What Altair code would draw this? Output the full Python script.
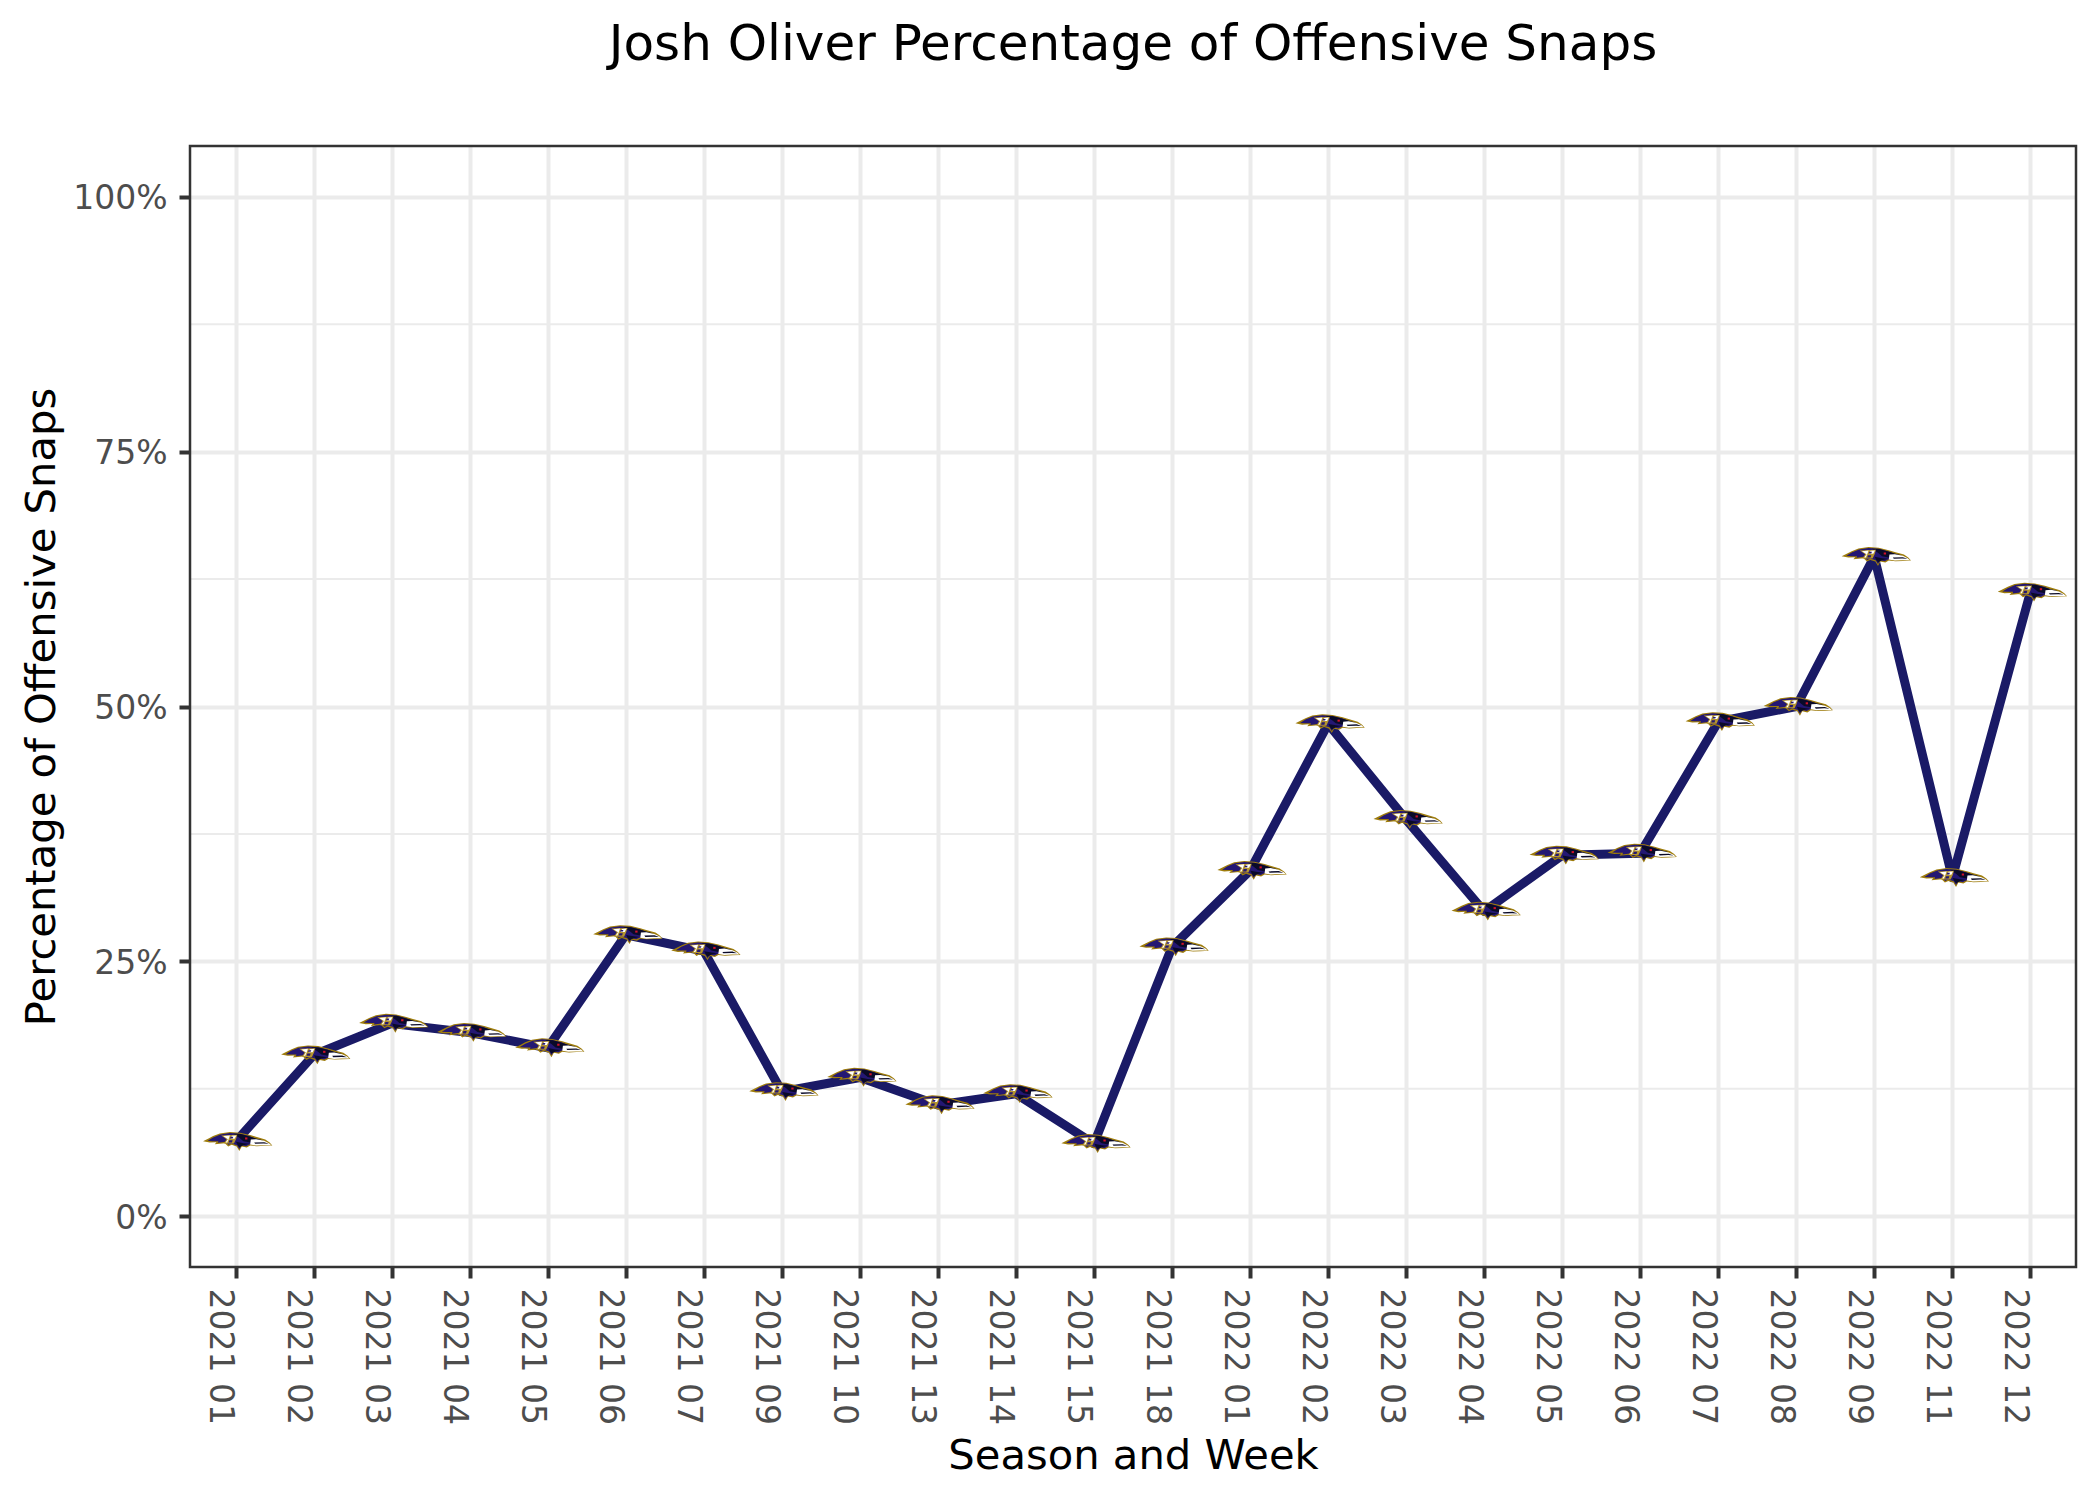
import altair as alt
import pandas as pd

weeks = ["2021 01","2021 02","2021 03","2021 04","2021 05","2021 06","2021 07","2021 09",
         "2021 10","2021 13","2021 14","2021 15","2021 18","2022 01","2022 02","2022 03",
         "2022 04","2022 05","2022 06","2022 07","2022 08","2022 09","2022 11","2022 12"]
snap_pct = [7.3,15.8,18.9,18.0,16.5,27.6,26.0,12.2,13.6,10.9,12.0,7.1,26.4,33.9,48.3,
            38.9,29.9,35.4,35.6,48.5,50.0,64.7,33.2,61.2]
major_ticks = [0, 25, 50, 75, 100]
minor_ticks = [12.5, 37.5, 62.5, 87.5]

W, H = 1886, 1121
FONT = "DejaVu Sans"
LOGO_SIZE = 4761


def shape(*polys):
    # Logo outline sketched on a 240x120 grid, normalised to Vega's symbol unit.
    out = []
    for pts in polys:
        coords = [f"{(x - 107) / 102.5:.3f},{(y - 51.5) / 102.5:.3f}" for x, y in pts]
        out.append("M" + "L".join(coords) + "Z")
    return "".join(out)


logo_layers = [
    # gold outline with feather jags
    ("#9E7C0C", shape([(10,50),(28,41),(40,35),(60,27),(90,23),(120,25),(150,32),(170,38),(195,45),
                       (208,54),(216,63),(192,64),(170,65),(150,63),(140,69),(125,66),(118,79),
                       (110,66),(95,61),(85,66),(75,56),(45,59),(50,53),(30,54)])),
    # purple body
    ("#241773", shape([(24,49),(40,39),(62,30),(90,26),(120,28),(148,35),(165,42),(160,55),(148,60),
                       (138,65),(125,62),(118,73),(111,62),(95,57),(86,61),(76,52),(54,55),(56,50),(38,50)])),
    # black head and back
    ("#0A0A28", shape([(100,28),(122,29),(148,36),(168,42),(190,48),(170,50),(150,54),(130,50),(118,40)],
                      [(108,52),(130,56),(148,58),(130,62),(118,68),(112,60)])),
    # white beak
    ("#FFFFFF", shape([(152,45),(168,44),(192,49),(206,56),(213,62),(190,62),(168,63),(150,60)])),
    ("#0A0A28", shape([(162,54),(192,53),(206,58),(190,57),(165,58)])),
    # gold and white letter
    ("#B5952F", shape([(64,33),(112,31),(108,44),(102,57),(72,57),(80,44)])),
    ("#FFFFFF", shape([(70,35),(90,33),(86,44),(82,54),(77,54),(84,44)],[(96,34),(109,33),(104,43),(92,43)])),
    ("#241773", shape([(92,37),(100,37),(98,42),(90,42)],[(88,47),(98,47),(96,54),(86,54)])),
    # eye
    ("#D0112B", shape([(135,39),(142,39),(142,45),(135,45)])),
]

df = pd.DataFrame({"week": weeks, "pct": snap_pct})

x_enc = alt.X("week:N", sort=weeks, title="Season and Week",
              scale=alt.Scale(type="point", padding=0.585),
              axis=alt.Axis(labelAngle=90, labelAlign="left", labelBaseline="top",
                            labelFont=FONT, labelFontSize=33, labelColor="#4D4D4D",
                            labelPadding=10, labelOverlap=False, labelBound=False,
                            tickColor="#333333", tickWidth=4, tickSize=11,
                            domain=False, grid=True, gridColor="#EBEBEB", gridWidth=4,
                            titleFont=FONT, titleFontSize=41.7, titleFontWeight="normal",
                            titleColor="black", titleY=168))
y_scale = alt.Scale(domain=[-5, 105], nice=False, zero=False)
y_axis = alt.Axis(values=major_ticks, labelExpr="datum.value + '%'",
                  labelFont=FONT, labelFontSize=33, labelColor="#4D4D4D",
                  labelPadding=12, labelOffset=2, labelBound=False,
                  tickColor="#333333", tickWidth=4, tickSize=11,
                  domain=False, grid=True, gridColor="#EBEBEB", gridWidth=4,
                  titleFont=FONT, titleFontSize=41.7, titleFontWeight="normal",
                  titleColor="black", titleX=-127)
y_title = "Percentage of Offensive Snaps"
y_enc = alt.Y("pct:Q", scale=y_scale, title=y_title, axis=y_axis)

minor = alt.Chart(pd.DataFrame({"v": minor_ticks})).mark_rule(color="#EBEBEB", strokeWidth=2).encode(
    y=alt.Y("v:Q", scale=y_scale, title=y_title, axis=y_axis))

base = alt.Chart(df).encode(x=x_enc, y=y_enc)
line = base.mark_line(color="#1A1A66", strokeWidth=9, strokeJoin="round")
logos = [
    base.mark_point(shape=path, size=LOGO_SIZE, filled=True, color=col, opacity=1, strokeWidth=0)
    for col, path in logo_layers
]

frame = alt.Chart(alt.Data(values=[{"a": 1}])).mark_rect(
    filled=False, stroke="#333333", strokeWidth=2.5
).encode(x=alt.value(0), x2=alt.value(W), y=alt.value(0), y2=alt.value(H))

chart = alt.layer(minor, line, *logos, frame).properties(
    width=W, height=H,
    autosize="none",
    padding={"left": 182, "top": 138, "right": 16, "bottom": 225},
    background="white",
    title=alt.TitleParams("Josh Oliver Percentage of Offensive Snaps", font=FONT, fontSize=50,
                          fontWeight="normal", color="black", anchor="middle", offset=75),
).configure_view(stroke=None)

chart.save("out.html", embed_options={"renderer": "svg", "actions": False})
